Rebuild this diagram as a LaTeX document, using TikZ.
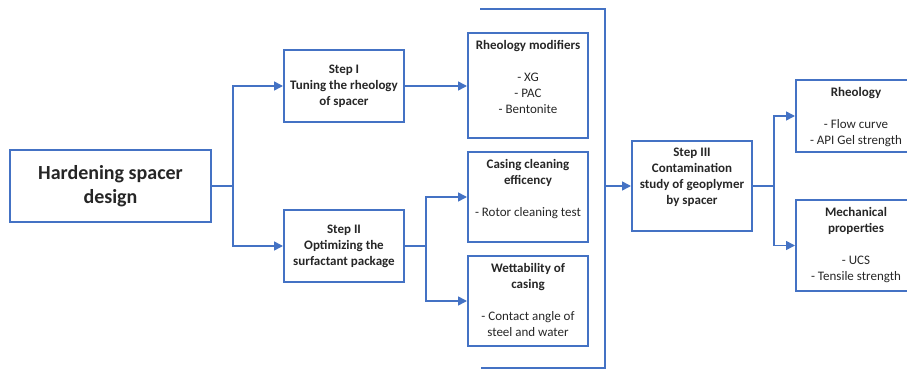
\documentclass[tikz,border=0pt]{standalone}
\usepackage{fontspec}
\setmainfont{Carlito}
\usetikzlibrary{arrows.meta}

\definecolor{boxblue}{HTML}{4472C4}
\newcommand{\topbox}[2]{\parbox[c][#1][t]{118pt}{\centering #2}}

\begin{document}
\begin{tikzpicture}[x=1pt, y=-1pt,
        box/.style={draw=boxblue, line width=2pt, minimum width=120pt, inner xsep=0pt, inner ysep=7pt,
            align=center, text=black!85, font=\fontsize{13}{16}\selectfont},
        stepbox/.style={box, minimum height=72pt, inner ysep=0pt, font=\fontsize{13}{16}\selectfont\bfseries},
        link/.style={draw=boxblue, line width=1.6pt},
        arr/.style={link, -{Triangle[length=9pt, width=9pt]}}]
        \useasboundingbox (0,0) rectangle (907,369);
        \clip (0,0) rectangle (907,369);

        \node[box, minimum width=201pt, minimum height=72pt, inner ysep=0pt,
            font=\fontsize{20}{24}\selectfont\bfseries] (main) at (110.5,186) {Hardening spacer\\design};

        \node[stepbox] (s1) at (344,86) {Step I\\Tuning the rheology\\of spacer};
        \node[stepbox] (s2) at (344,246) {Step II\\Optimizing the\\surfactant package};

        \node[box] (rm) at (528,85.5) {\topbox{91pt}{\textbf{Rheology modifiers}\\[16pt]- XG\\- PAC\\- Bentonite}};
        \node[box] (cc) at (528,197) {\topbox{76pt}{\textbf{Casing cleaning}\\\textbf{efficency}\\[16pt]- Rotor cleaning test}};
        \node[box] (wt) at (528,301) {\topbox{76pt}{\textbf{Wettability of}\\\textbf{casing}\\[16pt]- Contact angle of\\steel and water}};

        \node[box] (s3) at (692,186) {\topbox{76pt}{\bfseries Step III\\Contamination\\study of geoplymer\\by spacer}};

        \node[box] (rh) at (856,116) {\topbox{58pt}{\textbf{Rheology}\\[16pt]- Flow curve\\- API Gel strength}};
        \node[box] (mp) at (856,245.5) {\topbox{77pt}{\textbf{Mechanical}\\\textbf{properties}\\[16pt]- UCS\\- Tensile strength}};

        \draw[arr] (main.east) -- ++(21,0) |- (s1.west);
        \draw[arr] (main.east) -- ++(21,0) |- (s2.west);
        \draw[arr] (s1.east) -- (s1.east -| rm.west);
        \draw[arr] (s2.east) -- ++(21,0) |- (cc.west);
        \draw[arr] (s2.east) -- ++(21,0) |- (wt.west);

        \draw[link] (480,9) -- (605,9) -- (605,368) -- (481,368);
        \coordinate (join) at (605,186);
        \draw[arr] (join) -- (s3);

        \draw[arr] (s3.east) -- ++(21,0) |- (rh.west);
        \draw[arr] (s3.east) -- ++(21,0) |- (mp.west);

    \end{tikzpicture}
\end{document}
